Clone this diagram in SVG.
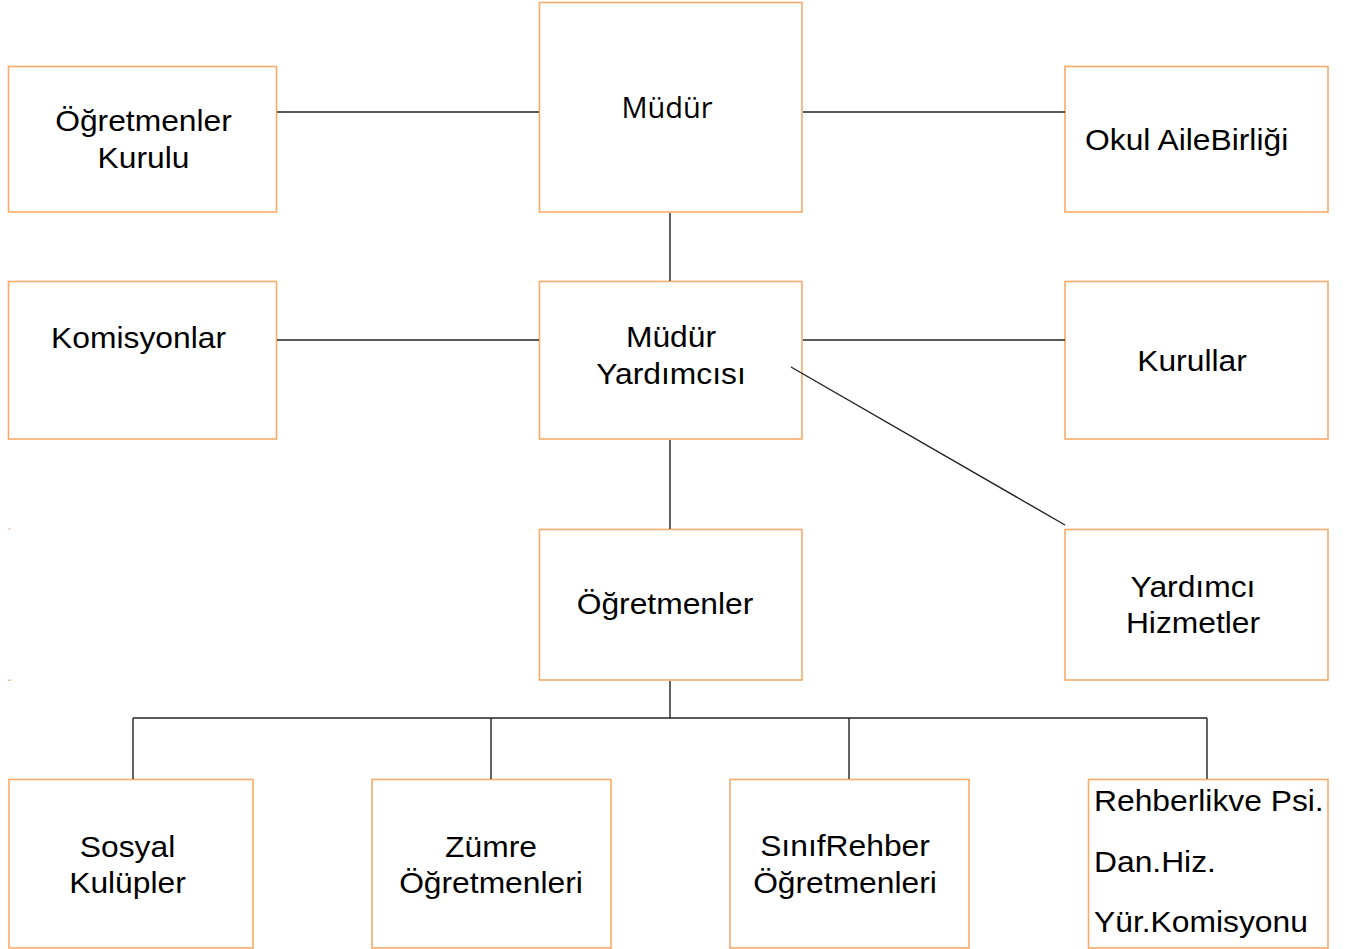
<svg xmlns="http://www.w3.org/2000/svg" width="1350" height="949" viewBox="0 0 1350 949">
<style>
.box{fill:#fff;stroke:#F9AA68;stroke-width:1.6}
.t{font-family:"Liberation Sans",Arial,sans-serif;font-size:30px;fill:#000;text-anchor:middle}
.tl{font-family:"Liberation Sans",Arial,sans-serif;font-size:30px;fill:#000}
.c{stroke:#222;stroke-width:1.4;fill:none}
</style>
<rect width="1350" height="949" fill="#fff"/>
<g id="n-ogretmenler-kurulu">
<rect class="box" x="8.5" y="66.5" width="268" height="145.5"/>
<text class="t" transform="translate(143.5 0) scale(1.06 1)" x="0" y="131">Öğretmenler</text>
<text class="t" transform="translate(143.5 0) scale(1.06 1)" x="0" y="168">Kurulu</text>
</g>
<g id="n-mudur">
<rect class="box" x="539.5" y="2.5" width="262.5" height="209.5"/>
<text x="667" y="118" style="font-family:'Open Sans','Noto Sans',sans-serif;font-size:29px;fill:#000;text-anchor:middle">Müdür</text>
</g>
<g id="n-okul-aile">
<rect class="box" x="1065" y="66.5" width="263" height="145.5"/>
<text class="tl" transform="translate(1085 0) scale(1.06 1)" x="0" y="150">Okul AileBirliği</text>
</g>
<g id="n-komisyonlar">
<rect class="box" x="8.5" y="281.5" width="268" height="157.5"/>
<text class="t" transform="translate(138.5 0) scale(1.06 1)" x="0" y="348">Komisyonlar</text>
</g>
<g id="n-mudur-yardimcisi">
<rect class="box" x="539.5" y="281.5" width="262.5" height="157.5"/>
<text class="t" transform="translate(671 0) scale(1.06 1)" x="0" y="347">Müdür</text>
<text class="t" transform="translate(671 0) scale(1.06 1)" x="0" y="384">Yardımcısı</text>
</g>
<g id="n-kurullar">
<rect class="box" x="1065" y="281.5" width="263" height="157.5"/>
<text class="t" transform="translate(1192 0) scale(1.06 1)" x="0" y="371">Kurullar</text>
</g>
<g id="n-ogretmenler">
<rect class="box" x="539.5" y="529.5" width="262.5" height="150.5"/>
<text class="t" transform="translate(665 0) scale(1.06 1)" x="0" y="614">Öğretmenler</text>
</g>
<g id="n-yardimci-hizmetler">
<rect class="box" x="1065" y="529.5" width="263" height="150.5"/>
<text class="t" transform="translate(1193 0) scale(1.06 1)" x="0" y="597">Yardımcı</text>
<text class="t" transform="translate(1193 0) scale(1.06 1)" x="0" y="633">Hizmetler</text>
</g>
<g id="n-sosyal-kulupler">
<rect class="box" x="9" y="779.5" width="244" height="168.5"/>
<text class="t" transform="translate(127.5 0) scale(1.06 1)" x="0" y="857">Sosyal</text>
<text class="t" transform="translate(127.5 0) scale(1.06 1)" x="0" y="893">Kulüpler</text>
</g>
<g id="n-zumre">
<rect class="box" x="372" y="779.5" width="239" height="168.5"/>
<text class="t" transform="translate(491 0) scale(1.06 1)" x="0" y="857">Zümre</text>
<text class="t" transform="translate(491 0) scale(1.06 1)" x="0" y="893">Öğretmenleri</text>
</g>
<g id="n-sinif-rehber">
<rect class="box" x="730" y="779.5" width="239" height="168.5"/>
<text class="t" transform="translate(845 0) scale(1.06 1)" x="0" y="856">SınıfRehber</text>
<text class="t" transform="translate(845 0) scale(1.06 1)" x="0" y="893">Öğretmenleri</text>
</g>
<g id="n-rehberlik">
<rect class="box" x="1088.5" y="779.5" width="239.5" height="168.5"/>
<text class="tl" transform="translate(1094 0) scale(1.06 1)" x="0" y="811">Rehberlikve Psi.</text>
<text class="tl" transform="translate(1094 0) scale(1.06 1)" x="0" y="872">Dan.Hiz.</text>
<text class="tl" transform="translate(1094 0) scale(1.06 1)" x="0" y="932">Yür.Komisyonu</text>
</g>
<g id="connectors">
<line class="c" x1="277" y1="112" x2="539" y2="112"/>
<line class="c" x1="803" y1="112" x2="1065" y2="112"/>
<line class="c" x1="670" y1="213" x2="670" y2="281"/>
<line class="c" x1="277" y1="340" x2="539" y2="340"/>
<line class="c" x1="803" y1="340" x2="1065" y2="340"/>
<line class="c" x1="791" y1="367" x2="1065" y2="525"/>
<line class="c" x1="670" y1="440" x2="670" y2="529"/>
<line class="c" x1="670" y1="681" x2="670" y2="718"/>
<line class="c" x1="133" y1="718" x2="1207" y2="718"/>
<line class="c" x1="133" y1="718" x2="133" y2="779"/>
<line class="c" x1="491" y1="718" x2="491" y2="779"/>
<line class="c" x1="849" y1="718" x2="849" y2="779"/>
<line class="c" x1="1207" y1="718" x2="1207" y2="779"/>
</g>
<rect x="8.5" y="528.5" width="2" height="1.2" fill="#F9AA68"/>
<rect x="8" y="679.5" width="3" height="1.5" fill="#FBC08A"/>
</svg>
